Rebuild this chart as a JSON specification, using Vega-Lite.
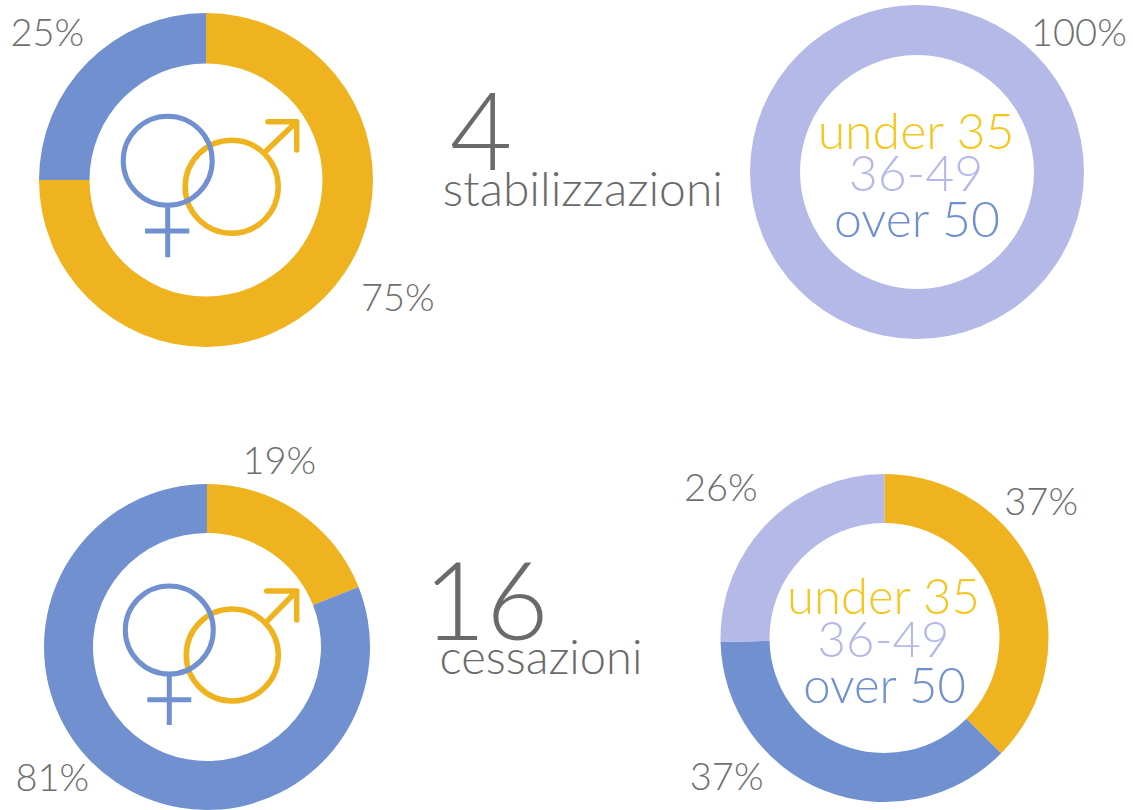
{
"$schema":"https://vega.github.io/schema/vega-lite/v6.json",
"padding":0,"background":"white","bounds":"flush","spacing":484,
"config":{"view":{"stroke":null},"concat":{"spacing":0},"text":{"font":"Lato","fontWeight":300}},
"datasets":{
"sexTop":[{"group":"uomini","share":75,"rank":1},{"group":"donne","share":25,"rank":2}],
"sexBottom":[{"group":"uomini","share":19,"rank":1},{"group":"donne","share":81,"rank":2}],
"ageTop":[{"group":"36-49","share":100,"rank":2}],
"ageBottom":[{"group":"under 35","share":37.4,"rank":1},{"group":"over 50","share":37.2,"rank":2},{"group":"36-49","share":25.4,"rank":3}],
"sexTopLabels":[{"label":"25%","bearing":86.9,"reach":216.5},{"label":"75%","bearing":33.8,"reach":225.4}],
"sexBottomLabels":[{"label":"19%","bearing":5.9,"reach":199.4},{"label":"81%","bearing":63.8,"reach":203}],
"ageTopLabels":[{"label":"100%","bearing":13.7,"reach":213.5}],
"ageBottomLabels":[{"label":"37%","bearing":13.6,"reach":207.7},{"label":"37%","bearing":63.5,"reach":210.4},{"label":"26%","bearing":86.8,"reach":222}],
"ageTopKey":[{"group":"under 35","bearing":99.6,"reach":39},{"group":"36-49","bearing":55.1,"reach":3.2},{"group":"over 50","bearing":50,"reach":49}],
"ageBottomKey":[{"group":"under 35","bearing":99.6,"reach":40},{"group":"36-49","bearing":55.1,"reach":3.2},{"group":"over 50","bearing":50,"reach":49}],
"midTopBig":[{"label":"4","bearing":83.1,"reach":86.4}],
"midTopWord":[{"label":"stabilizzazioni","bearing":31.8,"reach":29}],
"midBottomBig":[{"label":"16","bearing":87.4,"reach":55.5}],
"midBottomWord":[{"label":"cessazioni","bearing":36.1,"reach":20.2}],
"female":[{"symbol":"donne"}],
"male":[{"symbol":"uomini"}]
},
"vconcat":[
{"bounds":"flush","spacing":0,"hconcat":[
 {"width":412,"height":360,"resolve":{"scale":{"color":"independent"}},"layer":[
  {"data":{"name":"sexTop"},"mark":{"type":"arc","radius":167,"radius2":116.5},"encoding":{"theta":{"field":"share","type":"quantitative","scale":{"domain":[0,100]}},"order":{"field":"rank"},"color":{"field":"group","type":"nominal","scale":{"domain":["uomini","donne"],"range":["#EFB320","#7090CF"]},"legend":null}}},
  {"data":{"name":"male"},"mark":{"type":"point","filled":false,"size":4,"stroke":"#EFB320","strokeWidth":5.5,"strokeCap":"round","strokeJoin":"round","opacity":1,"shape":"M-20.8 6.7A46.5 46.5 0 1 0 72.2 6.7A46.5 46.5 0 1 0 -20.8 6.7ZM59 -28L90.7 -58.3M62 -58.3L90.7 -58.3L90.7 -30"},"encoding":{}},
  {"data":{"name":"female"},"mark":{"type":"point","filled":false,"size":4,"stroke":"#7090CF","strokeWidth":5,"opacity":1,"shape":"M-82.8 -19.3A44.5 44.5 0 1 0 6.2 -19.3A44.5 44.5 0 1 0 -82.8 -19.3ZM-38.3 25.2L-38.3 77.3M-61 51L-16.7 51"},"encoding":{}},
  {"data":{"name":"sexTopLabels"},"mark":{"type":"text","fontSize":38,"dy":2,"font":"Lato","fontWeight":300,"color":"#6E6E6E"},"encoding":{"text":{"field":"label"},"theta":{"field":"bearing","type":"quantitative","stack":null,"scale":{"domain":[0,100]}},"radius":{"field":"reach","type":"quantitative","scale":{"domain":[0,300],"range":[0,300]}}}}
 ]},
 {"width":289,"height":360,"layer":[
  {"data":{"name":"midTopBig"},"mark":{"type":"text","fontSize":108,"font":"Lato","fontWeight":300,"color":"#6A6A6A"},"encoding":{"text":{"field":"label"},"theta":{"field":"bearing","type":"quantitative","stack":null,"scale":{"domain":[0,100]}},"radius":{"field":"reach","type":"quantitative","scale":{"domain":[0,300],"range":[0,300]}}}},
  {"data":{"name":"midTopWord"},"mark":{"type":"text","fontSize":48,"font":"Lato","fontWeight":300,"color":"#6A6A6A"},"encoding":{"text":{"field":"label"},"theta":{"field":"bearing","type":"quantitative","stack":null,"scale":{"domain":[0,100]}},"radius":{"field":"reach","type":"quantitative","scale":{"domain":[0,300],"range":[0,300]}}}}
 ]},
 {"width":432,"height":344,"resolve":{"scale":{"color":"independent"}},"layer":[
  {"data":{"name":"ageTop"},"mark":{"type":"arc","radius":167,"radius2":117},"encoding":{"theta":{"field":"share","type":"quantitative","scale":{"domain":[0,100]}},"order":{"field":"rank"},"color":{"field":"group","type":"nominal","scale":{"domain":["under 35","over 50","36-49"],"range":["#EFB320","#7090CF","#B4B9E8"]},"legend":null}}},
  {"data":{"name":"ageTopLabels"},"mark":{"type":"text","fontSize":38,"dy":2,"font":"Lato","fontWeight":300,"color":"#6E6E6E"},"encoding":{"text":{"field":"label"},"theta":{"field":"bearing","type":"quantitative","stack":null,"scale":{"domain":[0,100]}},"radius":{"field":"reach","type":"quantitative","scale":{"domain":[0,300],"range":[0,300]}}}},
  {"data":{"name":"ageTopKey"},"mark":{"type":"text","fontSize":50,"dy":1,"font":"Lato","fontWeight":300},"encoding":{"text":{"field":"group"},"theta":{"field":"bearing","type":"quantitative","stack":null,"scale":{"domain":[0,100]}},"radius":{"field":"reach","type":"quantitative","scale":{"domain":[0,300],"range":[0,300]}},"color":{"field":"group","type":"nominal","scale":{"domain":["under 35","over 50","36-49"],"range":["#F5C71E","#7090CF","#B4B9E8"]},"legend":null}}}
 ]}
]},
{"bounds":"flush","spacing":0,"hconcat":[
 {"width":414,"height":326,"resolve":{"scale":{"color":"independent"}},"layer":[
  {"data":{"name":"sexBottom"},"mark":{"type":"arc","radius":163,"radius2":114},"encoding":{"theta":{"field":"share","type":"quantitative","scale":{"domain":[0,100]}},"order":{"field":"rank"},"color":{"field":"group","type":"nominal","scale":{"domain":["uomini","donne"],"range":["#EFB320","#7090CF"]},"legend":null}}},
  {"data":{"name":"male"},"mark":{"type":"point","filled":false,"size":4,"stroke":"#EFB320","strokeWidth":5.5,"strokeCap":"round","strokeJoin":"round","opacity":1,"shape":"M-20.7 8A46 46 0 1 0 71.3 8A46 46 0 1 0 -20.7 8ZM59.7 -25.3L89.7 -56M59.7 -56L89.7 -56L89.7 -27"},"encoding":{}},
  {"data":{"name":"female"},"mark":{"type":"point","filled":false,"size":4,"stroke":"#7090CF","strokeWidth":5,"opacity":1,"shape":"M-81.7 -17A44 44 0 1 0 6.3 -17A44 44 0 1 0 -81.7 -17ZM-37.7 27L-37.7 78M-59.7 52.7L-15.7 52.7"},"encoding":{}},
  {"data":{"name":"sexBottomLabels"},"mark":{"type":"text","fontSize":38,"dy":2,"font":"Lato","fontWeight":300,"color":"#6E6E6E"},"encoding":{"text":{"field":"label"},"theta":{"field":"bearing","type":"quantitative","stack":null,"scale":{"domain":[0,100]}},"radius":{"field":"reach","type":"quantitative","scale":{"domain":[0,300],"range":[0,300]}}}}
 ]},
 {"width":223,"height":326,"layer":[
  {"data":{"name":"midBottomBig"},"mark":{"type":"text","fontSize":108,"font":"Lato","fontWeight":300,"color":"#6A6A6A"},"encoding":{"text":{"field":"label"},"theta":{"field":"bearing","type":"quantitative","stack":null,"scale":{"domain":[0,100]}},"radius":{"field":"reach","type":"quantitative","scale":{"domain":[0,300],"range":[0,300]}}}},
  {"data":{"name":"midBottomWord"},"mark":{"type":"text","fontSize":47,"font":"Lato","fontWeight":300,"color":"#6A6A6A"},"encoding":{"text":{"field":"label"},"theta":{"field":"bearing","type":"quantitative","stack":null,"scale":{"domain":[0,100]}},"radius":{"field":"reach","type":"quantitative","scale":{"domain":[0,300],"range":[0,300]}}}}
 ]},
 {"width":495,"height":308,"resolve":{"scale":{"color":"independent"}},"layer":[
  {"data":{"name":"ageBottom"},"mark":{"type":"arc","radius":164,"radius2":115},"encoding":{"theta":{"field":"share","type":"quantitative","scale":{"domain":[0,100]}},"order":{"field":"rank"},"color":{"field":"group","type":"nominal","scale":{"domain":["under 35","over 50","36-49"],"range":["#EFB320","#7090CF","#B4B9E8"]},"legend":null}}},
  {"data":{"name":"ageBottomLabels"},"mark":{"type":"text","fontSize":38,"dy":2,"font":"Lato","fontWeight":300,"color":"#6E6E6E"},"encoding":{"text":{"field":"label"},"theta":{"field":"bearing","type":"quantitative","stack":null,"scale":{"domain":[0,100]}},"radius":{"field":"reach","type":"quantitative","scale":{"domain":[0,300],"range":[0,300]}}}},
  {"data":{"name":"ageBottomKey"},"mark":{"type":"text","fontSize":49,"dy":1,"font":"Lato","fontWeight":300},"encoding":{"text":{"field":"group"},"theta":{"field":"bearing","type":"quantitative","stack":null,"scale":{"domain":[0,100]}},"radius":{"field":"reach","type":"quantitative","scale":{"domain":[0,300],"range":[0,300]}},"color":{"field":"group","type":"nominal","scale":{"domain":["under 35","over 50","36-49"],"range":["#F5C71E","#7090CF","#B4B9E8"]},"legend":null}}}
 ]}
]}
]
}
